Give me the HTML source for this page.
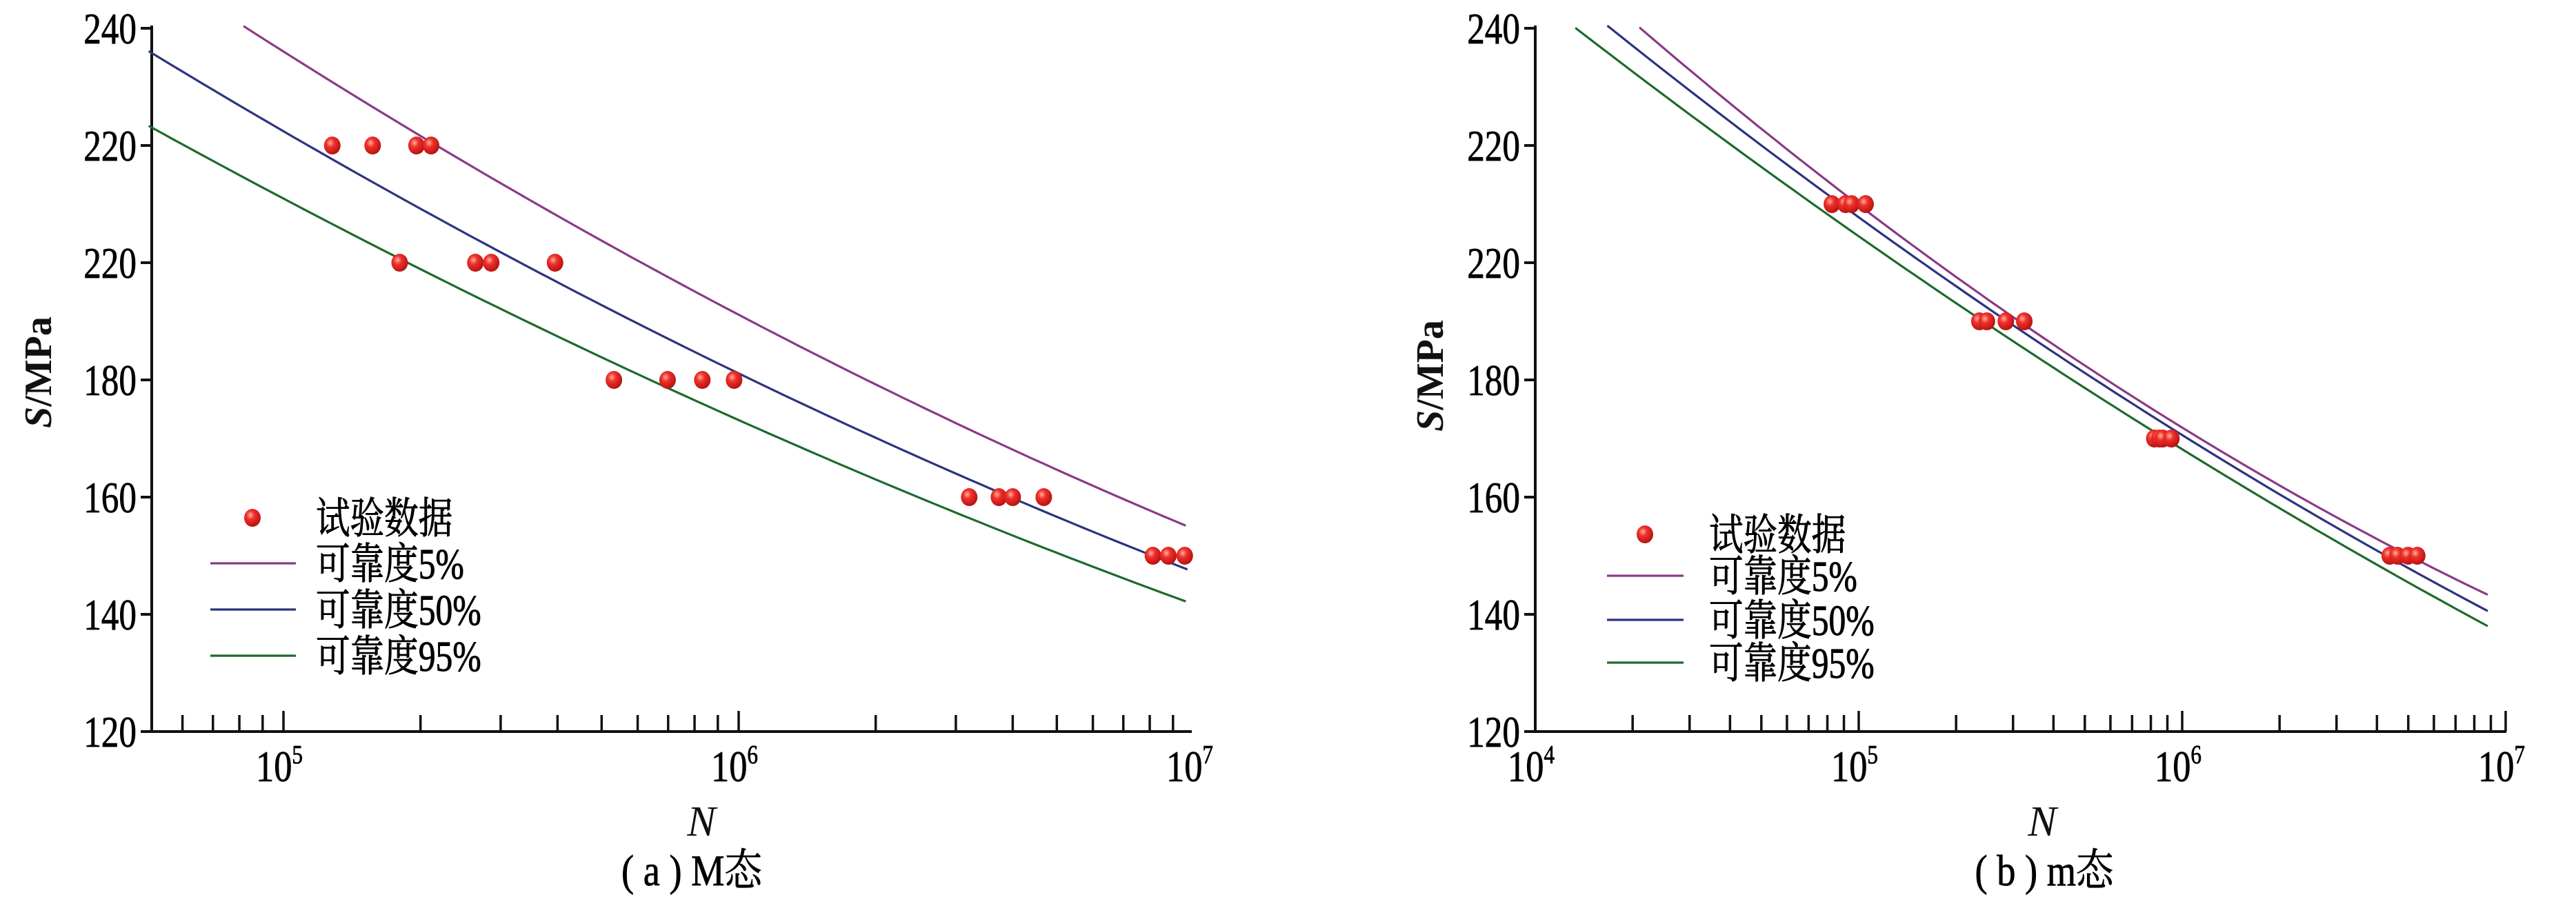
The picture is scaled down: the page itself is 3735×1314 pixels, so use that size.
<!DOCTYPE html>
<html><head><meta charset="utf-8"><style>
html,body{margin:0;padding:0;background:#fff;}
svg{display:block;}
</style></head><body>
<svg id="chart" width="3735" height="1314" viewBox="0 0 3735 1314" xmlns="http://www.w3.org/2000/svg" font-family="'Liberation Serif','Noto Serif CJK SC',serif" style="font-family:'Liberation Serif','Noto Serif CJK SC',serif">
<defs>
<radialGradient id="dotg" cx="0.38" cy="0.35" r="0.7">
<stop offset="0" stop-color="#ffb0a0"/><stop offset="0.35" stop-color="#f0302a"/><stop offset="1" stop-color="#b01010"/>
</radialGradient>
</defs>
<g id="panelA"></g>
<g id="panelB"></g>
</svg>
<script>
// ---- shared y axis data ----
const yTickValues = [240, 220, 200, 180, 160, 140, 120];
const yTickLabels = ["240", "220", "220", "180", "160", "140", "120"];
const seriesNames = ["可靠度5%", "可靠度50%", "可靠度95%"];
const seriesColors = ["#8a3a86", "#2c3380", "#1d6a2c"];

// ---- panel (a) data ----
const aDecades = [5, 6, 7];
const aTestN = [1.28e5,1.57e5,1.96e5,2.11e5, 1.80e5,2.64e5,2.86e5,3.95e5, 5.32e5,6.98e5,8.32e5,9.77e5, 3.21e6,3.73e6,4.0e6,4.68e6, 8.13e6,8.79e6,9.55e6];
const aTestS = [220,220,220,220, 200,200,200,200, 180,180,180,180, 160,160,160,160, 150,150,150];
const a5N = [8.17e4, 1.95e5, 3.91e5, 1e6, 2.02e6, 3.79e6, 9.6e6];
const a5S = [240.4, 222.1, 208.1, 191.8, 179.4, 167.9, 155.5];
const a50N = [5.06e4, 1e5, 1.95e5, 3.91e5, 1e6, 2.24e6, 4.52e6, 9.68e6];
const a50S = [236.0, 222.9, 209.3, 196.6, 181.8, 168.3, 157.9, 147.7];
const a95N = [5.06e4, 1e5, 1.95e5, 3.91e5, 1e6, 2.24e6, 4.52e6, 9.6e6];
const a95S = [222.9, 211.7, 199.4, 187.4, 173.1, 161.1, 152.4, 142.0];

// ---- panel (b) data ----
const bDecades = [4, 5, 6, 7];
const bTestN = [8.26e4,9.1e4,9.5e4,1.05e5, 2.36e5,2.49e5,2.85e5,3.25e5, 8.2e5,8.5e5,8.7e5,9.26e5, 4.38e6,4.63e6,4.99e6,5.33e6];
const bTestS = [210,210,210,210, 190,190,190,190, 170,170,170,170, 150,150,150,150];
const b5N = [2.1e4, 1.01e5, 3.16e5, 1.08e6, 5.43e6, 8.8e6];
const b5S = [240, 210, 190, 170, 150, 142.8];
const b50N = [1.67e4, 9.3e4, 2.97e5, 9.25e5, 4.56e6, 8.8e6];
const b50S = [240, 210, 190, 170, 150, 140.4];
const b95N = [1.33e4, 7.87e4, 2.38e5, 7.93e5, 4.0e6, 8.8e6];
const b95S = [239.6, 210, 190, 170, 150, 137.4];

const NS = "http://www.w3.org/2000/svg";
const SERIF = "'Liberation Serif','Noto Serif CJK SC',serif";
function mk(tag, attrs, parent){const e=document.createElementNS(NS,tag);for(const k in attrs)e.setAttribute(k,attrs[k]);if(parent)parent.appendChild(e);return e;}
function cond(x,sx){return `translate(${x},0) scale(${sx},1) translate(${-x},0)`;}

// least-squares quadratic fit of S vs log10(N), drawn densely for a smooth curve
function quadFit(xs, ys){
  let S=[0,0,0,0,0], T=[0,0,0];
  xs.forEach((x,i)=>{let p=1;for(let k=0;k<5;k++){S[k]+=p;if(k<3)T[k]+=p*ys[i];p*=x;}});
  const A=[[S[0],S[1],S[2],T[0]],[S[1],S[2],S[3],T[1]],[S[2],S[3],S[4],T[2]]];
  for(let c=0;c<3;c++){for(let r=c+1;r<3;r++){const f=A[r][c]/A[c][c];for(let k=c;k<4;k++)A[r][k]-=f*A[c][k];}}
  const co=[0,0,0];
  for(let r=2;r>=0;r--){let s=A[r][3];for(let k=r+1;k<3;k++)s-=A[r][k]*co[k];co[r]=s/A[r][r];}
  return x=>co[0]+co[1]*x+co[2]*x*x;
}

function drawPanel(g, cfg){
  const x = n => cfg.x0 + (Math.log10(n)-cfg.logRef)*cfg.dec;
  const y = s => cfg.yTop + (240 - s)/120*(cfg.yBot-cfg.yTop);
  const ax = mk('path',{d:`M${cfg.axL},${cfg.yTop-4} L${cfg.axL},${cfg.yBot} L${cfg.axR},${cfg.yBot}`,fill:'none',stroke:'#111','stroke-width':4},g);
  
  
  yTickValues.forEach((v,i)=>{
    const t=mk('line',{x1:cfg.axL-16,x2:cfg.axL,y1:y(v),y2:y(v),stroke:'#111','stroke-width':4},g);
    
    
    const lx=cfg.axL-22;
    const l=mk('text',{x:lx,y:y(v)+22,'text-anchor':'end','font-size':64,'font-family':SERIF,fill:'#000',stroke:'#000','stroke-width':0.8,transform:cond(lx,0.8)},g);
    l.textContent=yTickLabels[i];
    
    
  });
  for(let dcd=cfg.decades[0]-1; dcd<=cfg.decades[cfg.decades.length-1]; dcd++){
    for(let m=1;m<=9;m++){
      const n=m*Math.pow(10,dcd); const px=x(n);
      if(px<cfg.axL-1||px>cfg.axR+1) continue;
      const t=mk('line',{x1:px,x2:px,y1:cfg.yBot,y2:cfg.yBot-(m===1?30:24),stroke:'#111','stroke-width':3.5},g);
      
      
    }
  }
  cfg.decades.forEach(dc=>{
    const px=x(Math.pow(10,dc));
    const l=mk('text',{x:px-6,y:cfg.yBot+72,'text-anchor':'middle','font-size':64,'font-family':SERIF,fill:'#000',stroke:'#000','stroke-width':0.8,transform:cond(px-6,0.82)},g);
    
    
    l.textContent='10';
    const s=mk('tspan',{dy:-26,'font-size':38},l); s.textContent=String(dc);
  });
  const sets=[[cfg.n5,cfg.s5],[cfg.n50,cfg.s50],[cfg.n95,cfg.s95]];
  sets.forEach((st,i)=>{
    const lx=st[0].map(n=>Math.log10(n));
    const f=quadFit(lx, st[1]);
    const a=lx[0], b=lx[lx.length-1];
    let d='';
    for(let k=0;k<=80;k++){const L=a+(b-a)*k/80;d+=(k?' L':'M')+x(Math.pow(10,L)).toFixed(1)+','+y(f(L)).toFixed(1);}
    const p=mk('path',{d:d,fill:'none',stroke:seriesColors[i],'stroke-width':3.2},g);
    
    
  });
  cfg.tn.forEach((n,j)=>{
    const c=mk('ellipse',{cx:x(n),cy:y(cfg.ts[j]),rx:12,ry:13,fill:'url(#dotg)'},g);
    
    
  });
  const lg=mk('g',{},g);
  
  
  const mkD=mk('ellipse',{cx:cfg.lgMx,cy:cfg.lgY[0],rx:12,ry:13,fill:'url(#dotg)'},lg);
  
  
  const t0=mk('text',{x:cfg.lgTx,y:cfg.lgY[0]+22,'font-size':62,'font-family':SERIF,fill:'#000',stroke:'#000','stroke-width':1,transform:cond(cfg.lgTx,0.8)},lg); t0.textContent='试验数据';
  
  
  seriesNames.forEach((nm,i)=>{
    const yy=cfg.lgY[i+1];
    const ln=mk('line',{x1:cfg.lgL1,x2:cfg.lgL2,y1:yy,y2:yy,stroke:seriesColors[i],'stroke-width':3.2},lg);
    
    
    const tt=mk('text',{x:cfg.lgTx,y:yy+22,'font-size':62,'font-family':SERIF,fill:'#000',stroke:'#000','stroke-width':1,transform:cond(cfg.lgTx,0.8)},lg); tt.textContent=nm;
    
    
  });
  const yt=mk('text',{x:0,y:0,'font-size':56,'font-weight':'bold','font-family':SERIF,fill:'#111','text-anchor':'middle',transform:`translate(${cfg.ytX},${cfg.ytY}) rotate(-90)`},g);
  
  
  const yi=mk('tspan',{'font-style':'italic'},yt); yi.textContent='S';
  const yr=mk('tspan',{},yt); yr.textContent='/MPa';
  const xt=mk('text',{x:cfg.xtX,y:1212,'font-size':62,'font-style':'italic','font-family':SERIF,fill:'#111','text-anchor':'middle'},g);
  xt.textContent='N';
  
  
  const cap=mk('text',{x:cfg.capX,y:1284,'font-size':64,'font-family':SERIF,fill:'#000',stroke:'#000','stroke-width':0.8,'text-anchor':'middle',transform:cond(cfg.capX,0.85)},g);
  cap.textContent=cfg.cap;
  
  
}

drawPanel(document.getElementById('panelA'),{
  x0:411, logRef:5, dec:660, yTop:41, yBot:1061, axL:220, axR:1728, decades:aDecades,
  n5:a5N,s5:a5S,n50:a50N,s50:a50S,n95:a95N,s95:a95S, tn:aTestN, ts:aTestS,
  lgMx:366, lgY:[751,817,884,951], lgTx:458, lgL1:305, lgL2:429,
  ytX:74, ytY:540, xtX:1017, capX:1003, cap:'( a ) M态'
});
drawPanel(document.getElementById('panelB'),{
  x0:2226, logRef:4, dec:469, yTop:41, yBot:1061, axL:2226, axR:3634, decades:bDecades,
  n5:b5N,s5:b5S,n50:b50N,s50:b50S,n95:b95N,s95:b95S, tn:bTestN, ts:bTestS,
  lgMx:2385, lgY:[775,835,899,961], lgTx:2478, lgL1:2330, lgL2:2441,
  ytX:2092, ytY:545, xtX:2961, capX:2964, cap:'( b ) m态'
});
</script>
</body></html>
